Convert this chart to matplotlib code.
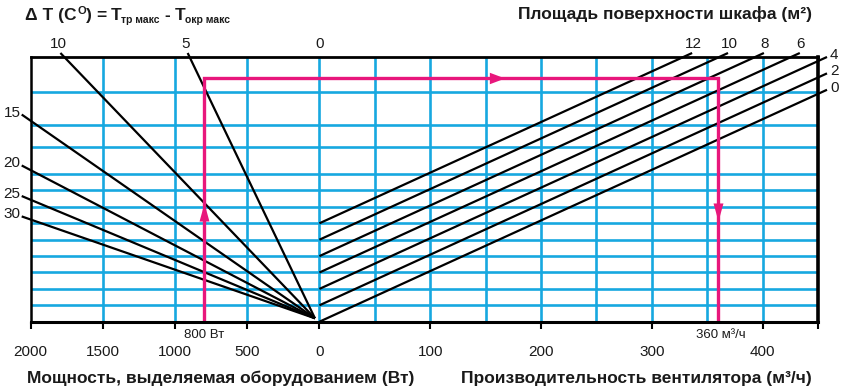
import matplotlib
matplotlib.use('Agg')
import matplotlib.pyplot as plt
import numpy as np

# ---------------- data ----------------
power_ticks = [2000, 1500, 1000, 500, 0]          # W (left half)
flow_ticks = [100, 200, 300, 400]                 # m3/h (right half)
power_max = 2000
flow_max = 450
delta_t = [5, 10, 15, 20, 25, 30]                 # ΔT lines (left)
areas = [0, 2, 4, 6, 8, 10, 12]                   # cabinet surface lines (right), m2
hgrid = [2, 4, 6, 8, 10, 12, 14, 16, 18, 21.3, 24, 28]   # horizontal grid levels
power_grid = [1500, 1000, 500, 0]
flow_grid = [50, 100, 150, 200, 250, 300, 350, 400]
example_power = 800
example_dt = 5
example_area = 8
example_flow = 360
k_wall = 5.45          # heat transfer, W/(m2*K)  -> y = P/(k*ΔT)
flow_per_unit = 16.2   # m3/h per y-unit

# ---------------- style ----------------
CYAN = '#17a8e0'
PINK = '#e8177c'
TXT = '#1a1a1a'
REG = ['Liberation Sans', 'DejaVu Sans']
BOLD = ['Liberation Sans', 'DejaVu Sans']
plt.rcParams['font.family'] = REG
NUM_FS = 11

W, H = 842, 389
fig = plt.figure(figsize=(W / 100, H / 100), dpi=100)
ax_l, ax_r, ax_t, ax_b = 30.7, 818, 57.3, 321.7
ax = fig.add_axes([ax_l / W, 1 - ax_b / H, (ax_r - ax_l) / W, (ax_b - ax_t) / H])

s = 260.6 / power_max           # power -> x units (left side, negative)
ytop = 32.24
ax.set_xlim(-power_max * s, flow_max)
ax.set_ylim(0, ytop)

def px(x_pixels):   # pixel offset -> x data
    return x_pixels * (flow_max + power_max * s) / (ax_r - ax_l)
def py(y_pixels):
    return y_pixels * ytop / (ax_b - ax_t)

# grid
for yv in hgrid:
    ax.axhline(yv, color=CYAN, lw=1.9, zorder=1)
for p in power_grid:
    ax.axvline(-p * s, color=CYAN, lw=1.9, zorder=1)
for q in flow_grid:
    ax.axvline(q, color=CYAN, lw=1.9, zorder=1)

# left ΔT lines converging near origin
cx, cy = -px(4.5), py(3.4)
x_end_left = -power_max * s - px(9)
y_end_top = ytop + py(4.3)
for dt in delta_t:
    c = 1.0 / (k_wall * dt)
    p_end = (cx - x_end_left) / s
    if cy + c * p_end > y_end_top:
        p_end = (y_end_top - cy) / c
    xe, ye = cx - s * p_end, cy + c * p_end
    ax.plot([cx, xe], [cy, ye], color='black', lw=1.6, zorder=3, clip_on=False,
            solid_capstyle='butt')
    if ye >= y_end_top - 1e-6:
        ax.text(xe - px(2), ye + py(2), str(dt), ha='center', va='bottom', fontsize=NUM_FS,
                clip_on=False, color=TXT)
    else:
        ax.text(xe - px(1), ye + py(2), str(dt), ha='right', va='center', fontsize=NUM_FS,
                clip_on=False, color=TXT)
ax.text(0, y_end_top + py(2), '0', ha='center', va='bottom', fontsize=NUM_FS,
        clip_on=False, color=TXT)

# right area lines
x_end_right = flow_max + px(9)
for a in areas:
    ye = a + x_end_right / flow_per_unit
    if ye > y_end_top:
        ye = y_end_top
    xe = (ye - a) * flow_per_unit
    ax.plot([0, xe], [a, ye], color='black', lw=1.6, zorder=3, clip_on=False,
            solid_capstyle='butt')
    if ye >= y_end_top - 1e-6:
        ax.text(xe + px(1), ye + py(2), str(a), ha='center', va='bottom', fontsize=NUM_FS,
                clip_on=False, color=TXT)
    else:
        ax.text(xe + px(3), ye + py(2), str(a), ha='left', va='center', fontsize=NUM_FS,
                clip_on=False, color=TXT)

# example path (pink)
y_ex = cy + example_power / (k_wall * example_dt)
x_p = -example_power * s
ax.plot([x_p, x_p, example_flow, example_flow], [0, y_ex, y_ex, 0], color=PINK,
        lw=2.4, zorder=4, solid_joinstyle='miter')
up = [(-0.55, -1), (0.55, -1), (0, 1), (-0.55, -1)]
down = [(-0.55, 1), (0.55, 1), (0, -1), (-0.55, 1)]
right = [(-1, -0.75), (-1, 0.75), (1, 0), (-1, -0.75)]
ax.plot([x_p], [13.4], marker=up, color=PINK, ms=13, mew=0, zorder=5)
ax.plot([160], [y_ex], marker=right, color=PINK, ms=11, mew=0, zorder=5)
ax.plot([example_flow], [13.4], marker=down, color=PINK, ms=13, mew=0, zorder=5)
ax.text(x_p, -py(7), f'{example_power} Вт', ha='center', va='top', fontsize=9.5,
        clip_on=False, color=TXT)
ax.text(example_flow + px(3), -py(7), f'{example_flow} м³/ч', ha='center', va='top',
        fontsize=9.5, clip_on=False, color=TXT)

# ticks
tick_pos = [-p * s for p in power_ticks] + flow_ticks + [flow_max]
tick_lab = [str(p) for p in power_ticks] + [str(q) for q in flow_ticks] + ['']
ax.set_xticks(tick_pos)
ax.set_xticklabels(tick_lab, fontsize=NUM_FS, color=TXT)
ax.tick_params(axis='x', direction='out', length=5, width=1.5, pad=12, color='black')
ax.set_yticks([])

for side, lw in [('left', 1.8), ('right', 2.6), ('bottom', 2.2), ('top', 2.0)]:
    ax.spines[side].set_linewidth(lw)
    ax.spines[side].set_color('black')
    ax.spines[side].set_zorder(6)

# ---------------- titles ----------------
TFS = 12.5
renderer = fig.canvas.get_renderer()

def rich_text(x0, base, pieces):
    x = x0
    for txt, size, dy, gap in pieces:
        x += gap
        t = fig.text(x / W, 1 - (base + dy) / H, txt, fontsize=size, fontweight='bold',
                     family=BOLD, ha='left', va='baseline', color=TXT)
        x += t.get_window_extent(renderer=renderer).width

rich_text(25, 20, [
    ('Δ T (C', TFS, 0, 0),
    ('O', 8, -6, 0.5),
    (')', TFS, 0, 0.5),
    ('=', TFS, 0, 4),
    ('T', TFS, 0, 4),
    ('тр макс', 7.5, 3, 0),
    ('-', TFS, 0, 5),
    ('T', TFS, 0, 4),
    ('окр макс', 7.5, 3, 0),
])

fig.text(812 / W, 1 - 18.5 / H, 'Площадь поверхности шкафа (м²)', ha='right',
         va='baseline', fontsize=TFS, fontweight='bold', family=BOLD, color=TXT)
fig.text(27 / W, 1 - 383 / H, 'Мощность, выделяемая оборудованием (Вт)', ha='left',
         va='baseline', fontsize=TFS, fontweight='bold', family=BOLD, color=TXT)
fig.text(812 / W, 1 - 383 / H, 'Производительность вентилятора (м³/ч)', ha='right',
         va='baseline', fontsize=TFS, fontweight='bold', family=BOLD, color=TXT)

fig.savefig('out.png', dpi=100)
